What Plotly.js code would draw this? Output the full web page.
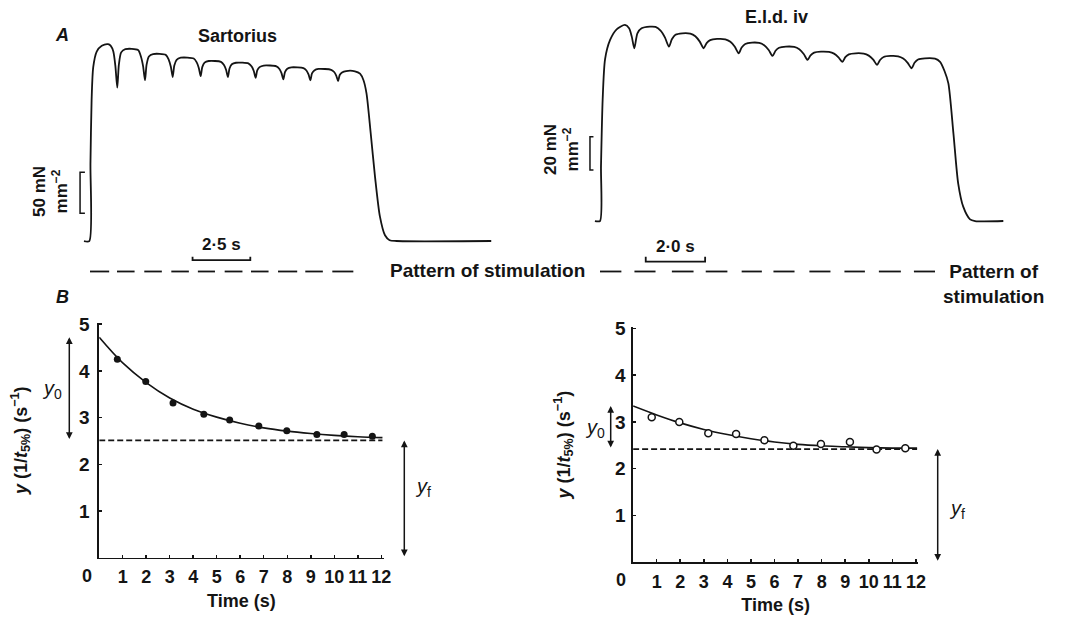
<!DOCTYPE html>
<html>
<head>
<meta charset="utf-8">
<script src="https://cdn.plot.ly/plotly-3.0.1.min.js"></script>
<style>html,body{margin:0;padding:0;background:#fff;}#chart{width:1068px;height:618px;}</style>
</head>
<body>
<div id="chart"></div>
<script>
// ---------- Panel A: force traces (time in s, force in mN mm^-2) ----------
const sartoriusTime = [-0.23,0,0.05,0.10,0.17,0.32,0.54,0.81,0.93,1.04,1.13,1.21,1.28,1.38,1.56,
  2.11,2.24,2.33,2.41,2.48,2.58,2.76,
  3.31,3.44,3.53,3.61,3.68,3.78,3.96,
  4.52,4.65,4.74,4.82,4.89,4.99,5.17,
  5.70,5.83,5.92,6.00,6.07,6.17,6.35,
  6.90,7.03,7.12,7.20,7.27,7.37,7.55,
  8.10,8.23,8.32,8.40,8.47,8.57,8.75,
  9.27,9.40,9.49,9.57,9.64,9.74,9.92,
  10.47,10.60,10.69,10.77,10.84,10.94,11.12,
  11.50,11.72,11.87,12.00,12.18,12.37,12.58,12.80,13.00,13.30,17.40];
const sartoriusForce = [0,0,95,172,212,231,238,240,238,231,213,187,215,230,234,
  233,224.5,213,196,215,225,228,
  227,221,212.6,200,214,221,223.5,
  222.5,217.9,211.1,201,212,217.5,219.5,
  218.5,214.6,208.8,200,210.4,215.5,217.4,
  216.4,212.8,207.3,199,208,212,214,
  213,209.8,204.7,197,205.9,210,211.8,
  210.8,207.9,203.1,196,204.3,208,209.8,
  208.8,206.1,201.7,195,202.4,205.5,207.3,
  207,204,196,180,132,78,30,7,1,0,0];

const eldTime = [-0.17,0,0.034,0.09,0.17,0.34,0.56,0.84,0.98,1.07,1.155,1.26,1.40,1.68,
  1.87,2.04,2.19,2.32,2.42,2.54,2.77,
  3.04,3.21,3.36,3.49,3.59,3.71,3.94,
  4.22,4.39,4.54,4.67,4.77,4.89,5.12,
  5.36,5.53,5.68,5.81,5.91,6.03,6.26,
  6.54,6.71,6.86,6.99,7.09,7.21,7.44,
  7.71,7.88,8.03,8.16,8.26,8.38,8.61,
  8.88,9.05,9.20,9.33,9.43,9.55,9.78,
  10.04,10.21,10.36,10.49,10.59,10.71,10.94,
  11.28,11.45,11.60,11.73,11.90,12.06,12.23,12.46,12.63,13.58];
const eldForce = [0,0,33,73,97,108.6,115,117.6,115.6,110.6,103.6,112.6,115.6,116.6,
  116.4,114.2,110,104.6,109,111.7,112.6,
  112.4,110.8,107.6,103.6,106.7,108.5,109.2,
  109,107.5,104.5,100.6,104.1,106.2,107,
  106.8,105.4,102.6,99,102.1,103.9,104.6,
  104.4,103,100.2,96.6,99.4,101,101.6,
  101.4,100.4,98.2,95.4,98.3,100,100.6,
  100.4,99.2,96.8,93.6,96.6,98.4,99,
  98.8,97.5,94.9,91.6,94.9,96.9,97.6,
  97.4,95.5,90,82.6,52.6,22.6,8.6,1,0,0];

// stimulation trains (on/off times, s)
const stimOnA  = [0.03,1.20,2.38,3.55,4.70,5.86,7.00,8.17,9.35,10.52];
const stimOffA = [0.86,1.96,3.14,4.31,5.44,6.63,7.76,9.00,10.11,11.43];
const stimOnB  = [0.00,1.16,2.42,3.56,4.77,5.84,7.05,8.23,9.39,10.57];
const stimOffB = [0.72,1.87,3.15,4.29,5.45,6.55,7.76,8.92,10.13,11.28];

// scale bars
const forceBarA = 50, timeBarA = 2.5;
const forceBarB = 20, timeBarB = 2.0;

// ---------- Panel B: y = 1/t5% vs time ----------
const pointTimeA = [0.77,1.98,3.14,4.45,5.55,6.79,7.98,9.26,10.42,11.62];
const pointYA    = [4.25,3.77,3.31,3.07,2.95,2.82,2.72,2.64,2.64,2.60];
const pointTimeB = [0.79,1.96,3.19,4.37,5.57,6.80,7.97,9.20,10.33,11.55];
const pointYB    = [3.10,3.00,2.76,2.74,2.61,2.49,2.53,2.57,2.41,2.44];
const fitTime  = [0,1,2,3,4,5,6,7,8,9,10,11,12.05];
const fitYA    = [4.72,4.17,3.75,3.42,3.18,3.01,2.88,2.78,2.71,2.66,2.62,2.59,2.57];
const fitYB    = [3.34,3.15,2.98,2.84,2.73,2.64,2.57,2.52,2.49,2.47,2.45,2.44,2.44];
const yfA = 2.51, yfB = 2.42;
const xTicks = [1,2,3,4,5,6,7,8,9,10,11,12];
const xTickText = ['1','2','3','4','5','6','7','8','9','10','11','12'];
const yTicks = [1,2,3,4,5];

const FONT = 'Liberation Sans, Arial, Helvetica, sans-serif';
const INK = '#141414';
const bold = (s) => ({family: FONT, size: s, color: INK, weight: 700});

const traces = [
  {x: sartoriusTime, y: sartoriusForce, xaxis: 'x', yaxis: 'y', mode: 'lines',
   line: {color: INK, width: 1.8, shape: 'spline', smoothing: 0.7}, hoverinfo: 'skip'},
  {x: eldTime, y: eldForce, xaxis: 'x2', yaxis: 'y2', mode: 'lines',
   line: {color: INK, width: 1.8, shape: 'spline', smoothing: 0.7}, hoverinfo: 'skip'},
  // B left
  {x: fitTime, y: fitYA, xaxis: 'x3', yaxis: 'y3', mode: 'lines',
   line: {color: INK, width: 1.6, shape: 'spline', smoothing: 1}},
  {x: [fitTime[0], fitTime[fitTime.length-1]], y: [yfA, yfA], xaxis: 'x3', yaxis: 'y3', mode: 'lines',
   line: {color: INK, width: 1.7, dash: '6px,3px'}},
  {x: pointTimeA, y: pointYA, xaxis: 'x3', yaxis: 'y3', mode: 'markers',
   marker: {color: INK, size: 7, symbol: 'circle'}},
  // B right
  {x: fitTime, y: fitYB, xaxis: 'x4', yaxis: 'y4', mode: 'lines',
   line: {color: INK, width: 1.6, shape: 'spline', smoothing: 1}},
  {x: [fitTime[0], fitTime[fitTime.length-1]], y: [yfB, yfB], xaxis: 'x4', yaxis: 'y4', mode: 'lines',
   line: {color: INK, width: 1.7, dash: '6px,3px'}},
  {x: pointTimeB, y: pointYB, xaxis: 'x4', yaxis: 'y4', mode: 'markers',
   marker: {color: '#fff', size: 7, symbol: 'circle', line: {color: INK, width: 1.5}}}
];

const shapes = [];
const stimY = 0.5607;
stimOnA.forEach((t0, i) => shapes.push({type: 'line', xref: 'x', yref: 'paper', x0: t0, x1: stimOffA[i], y0: stimY, y1: stimY, line: {color: INK, width: 1.8}}));
stimOnB.forEach((t0, i) => shapes.push({type: 'line', xref: 'x2', yref: 'paper', x0: t0, x1: stimOffB[i], y0: stimY, y1: stimY, line: {color: INK, width: 1.8}}));
// vertical force scale brackets
function vBracket(xr, yr, x0, x1, f0, f1) {
  return {type: 'path', xref: xr, yref: yr, path: `M${x1},${f0} L${x0},${f0} L${x0},${f1} L${x1},${f1}`, line: {color: INK, width: 1.5}};
}
function hBar(xr, yr, t0, t1, f0, f1) {
  return {type: 'path', xref: xr, yref: yr, path: `M${t0},${f1} L${t0},${f0} L${t1},${f0} L${t1},${f1}`, line: {color: INK, width: 1.8}};
}
shapes.push(vBracket('x', 'y', -0.40, -0.19, 33.8, 33.8 + forceBarA));
shapes.push(vBracket('x2', 'y2', -0.337, -0.22, 30.6, 30.6 + forceBarB));
shapes.push(hBar('x', 'y', 4.47, 4.47 + timeBarA, -23.2, -19.1));
shapes.push(hBar('x2', 'y2', 1.54, 1.54 + timeBarB, -24.4, -21.4));

const ann = (o) => Object.assign({showarrow: false, font: bold(18), xanchor: 'center', yanchor: 'middle'}, o);
const arrow = (xp, yr, yTop, yBot) => ({xref: 'paper', yref: yr, x: xp, y: yTop, axref: 'pixel', ax: 0,
  ayref: yr, ay: yBot, text: '', showarrow: true, arrowside: 'end+start', arrowhead: 2, arrowsize: 0.9,
  arrowwidth: 1.5, arrowcolor: INK, standoff: 0, startstandoff: 0});
const italic = (s) => ({family: FONT, size: s, color: INK, weight: 700, style: 'italic'});

const annotations = [
  ann({xref: 'paper', yref: 'paper', x: 62/1068, y: 1 - 35/618, text: 'A', font: italic(18)}),
  ann({xref: 'paper', yref: 'paper', x: 62/1068, y: 1 - 297/618, text: 'B', font: italic(18)}),
  ann({xref: 'paper', yref: 'paper', x: 237/1068, y: 1 - 36/618, text: 'Sartorius'}),
  ann({xref: 'paper', yref: 'paper', x: 777/1068, y: 1 - 17/618, text: 'E.l.d. iv'}),
  ann({xref: 'paper', yref: 'paper', x: 487/1068, y: 1 - 270/618, text: 'Pattern of stimulation', font: bold(19)}),
  ann({xref: 'paper', yref: 'paper', x: 993/1068, y: 1 - 284/618, text: 'Pattern of<br>stimulation', font: bold(19)}),
  ann({xref: 'x', yref: 'y', x: 4.47 + timeBarA/2, y: -23.2, yshift: 16, text: '2·5 s', font: bold(17)}),
  ann({xref: 'x2', yref: 'y2', x: 1.54 + timeBarB/2, y: -24.4, yshift: 15, text: '2·0 s', font: bold(17)}),
  ann({xref: 'paper', yref: 'paper', x: 51/1068, y: 1 - 192/618, text: '50 mN<br>mm<sup>−2</sup>', textangle: -90, font: bold(17)}),
  ann({xref: 'paper', yref: 'paper', x: 561/1068, y: 1 - 150/618, text: '20 mN<br>mm<sup>−2</sup>', textangle: -90, font: bold(17)}),
  // origin labels
  ann({xref: 'x3', yref: 'y3', x: 0, y: 0, xshift: -12, yshift: -18, text: '0'}),
  ann({xref: 'x4', yref: 'y4', x: 0, y: 0, xshift: -12, yshift: -18, text: '0'}),
  // y0 / yf
  arrow(69.3/1068, 'y3', fitYA[0], yfA),
  arrow(404.3/1068, 'y3', yfA, 0),
  arrow(610.7/1068, 'y4', fitYB[0], yfB),
  arrow(937.7/1068, 'y4', yfB, 0),
  ann({xref: 'paper', yref: 'paper', x: 52/1068, y: 1 - 389/618, text: '<i>y</i><sub>0</sub>', font: {family: FONT, size: 20, color: INK}}),
  ann({xref: 'paper', yref: 'paper', x: 423/1068, y: 1 - 488/618, text: '<i>y</i><sub>f</sub>', font: {family: FONT, size: 20, color: INK}}),
  ann({xref: 'paper', yref: 'paper', x: 595/1068, y: 1 - 428/618, text: '<i>y</i><sub>0</sub>', font: {family: FONT, size: 20, color: INK}}),
  ann({xref: 'paper', yref: 'paper', x: 957/1068, y: 1 - 509/618, text: '<i>y</i><sub>f</sub>', font: {family: FONT, size: 20, color: INK}})
];

const hidden = {visible: false, showgrid: false, zeroline: false, fixedrange: true};
const bx = (domain, anchor) => ({domain, anchor, range: [0, 12.1], showgrid: false, zeroline: false,
  showline: true, linecolor: INK, linewidth: 1.8, ticks: 'inside', ticklen: 3, tickwidth: 1.5, tickcolor: INK,
  tickvals: xTicks, ticktext: xTickText, tickfont: bold(18), ticklabelstandoff: 2,
  title: {text: 'Time (s)', font: bold(18), standoff: 8}});
const by = (domain, anchor, labelGap, titleGap) => ({domain, anchor, range: [0, 5.03], showgrid: false, zeroline: false,
  showline: true, linecolor: INK, linewidth: 1.8, ticks: 'inside', ticklen: 3, tickwidth: 1.5, tickcolor: INK,
  tickvals: yTicks, tickfont: bold(19), ticklabelstandoff: labelGap,
  title: {text: '<i>y</i> (1/<i>t</i><sub>5%</sub>) (s<sup>−1</sup>)', font: bold(18), standoff: titleGap}});

const layout = {
  width: 1068, height: 618,
  margin: {l: 0, r: 0, t: 0, b: 0},
  paper_bgcolor: '#fff', plot_bgcolor: 'rgba(0,0,0,0)',
  showlegend: false,
  font: {family: FONT, color: INK},
  xaxis: Object.assign({domain: [0, 0.5], range: [-3.866, 19.251], anchor: 'y'}, hidden),
  yaxis: Object.assign({domain: [0.5307, 1], range: [-59.76, 293.9], anchor: 'x'}, hidden),
  xaxis2: Object.assign({domain: [0.5, 1], range: [-2.222, 15.758], anchor: 'y2'}, hidden),
  yaxis2: Object.assign({domain: [0.5307, 1], range: [-41.39, 132.57], anchor: 'x2'}, hidden),
  xaxis3: bx([0.0929, 0.3592], 'y3'),
  yaxis3: by([0.0976, 0.4777], 'x3', 4, 47),
  xaxis4: bx([0.5928, 0.8598], 'y4'),
  yaxis4: by([0.0901, 0.4710], 'x4', 2, 40),
  shapes, annotations
};

Plotly.newPlot('chart', traces, layout, {staticPlot: true, displayModeBar: false});
</script>
</body>
</html>
